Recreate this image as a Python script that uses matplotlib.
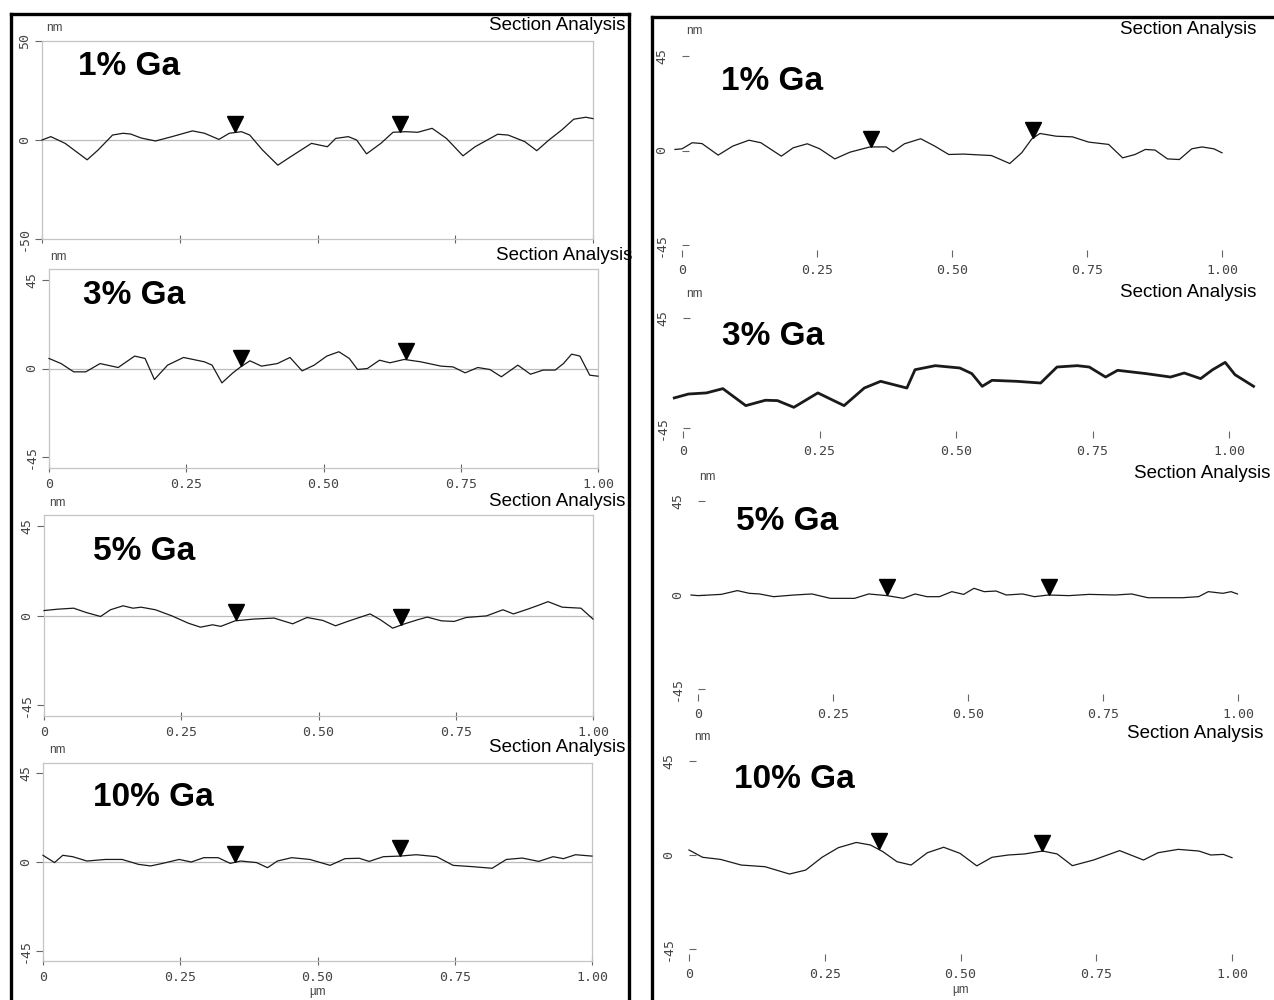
import matplotlib.pyplot as plt
import numpy as np
from matplotlib.lines import Line2D
from matplotlib.transforms import offset_copy

W, H = 1274, 1000

panel_labels = ['1% Ga', '3% Ga', '5% Ga', '10% Ga']
tick_pos = [0, 0.25, 0.5, 0.75, 1.0]
tick_text = ['0', '0.25', '0.50', '0.75', '1.00']
marker_x = [0.35, 0.65]

# left column profiles (x in um, height in nm)
left1_x = [0, 0.016, 0.042, 0.082, 0.102, 0.128, 0.147, 0.161, 0.18, 0.206, 0.236, 0.273, 0.295,
           0.321, 0.34, 0.362, 0.377, 0.4, 0.428, 0.451, 0.489, 0.518, 0.533, 0.556, 0.571, 0.589,
           0.615, 0.637, 0.66, 0.682, 0.708, 0.734, 0.764, 0.786, 0.827, 0.846, 0.876, 0.898, 0.92,
           0.943, 0.965, 0.987, 1.0]
left1_y = [0, 1.7, -1.7, -10, -5, 2.5, 3.4, 3, 1, -0.5, 1.7, 4.6, 3.4,
           0.3, 3.4, 4.2, 2.5, -5, -12.7, -8.5, -1.7, -3.4, 0.8, 1.7, 0, -7,
           -1.7, 3.9, 4.2, 3.9, 5.9, 0.8, -8, -3.4, 2.9, 2.5, -0.8, -5.4, 0,
           5, 10.5, 11.5, 10.8]

left3_x = [0, 0.022, 0.045, 0.067, 0.093, 0.126, 0.156, 0.175, 0.192, 0.216, 0.245, 0.283, 0.297,
           0.315, 0.335, 0.349, 0.366, 0.387, 0.416, 0.439, 0.461, 0.483, 0.506, 0.528, 0.547, 0.562,
           0.58, 0.602, 0.621, 0.647, 0.677, 0.714, 0.736, 0.758, 0.781, 0.803, 0.824, 0.854, 0.877,
           0.9, 0.922, 0.937, 0.952, 0.967, 0.985, 1.0]
left3_y = [5.1, 2.5, -1.7, -1.7, 2.5, 0.5, 6.3, 5.1, -5.6, 1.7, 5.6, 3.4, 1.7,
           -7.3, -2.2, 0.8, 3.9, 1.2, 2.5, 5.6, -1.2, 1.7, 6.3, 8.5, 5.1, -0.5,
           0, 4.2, 2.9, 4.6, 3.4, 1.2, 0.8, -2.2, 0.5, -0.5, -4.2, 1.7, -2.9,
           -0.8, -0.8, 2.5, 7.3, 6.3, -3.4, -3.9]

left5_x = [0, 0.025, 0.054, 0.077, 0.103, 0.121, 0.144, 0.162, 0.177, 0.203, 0.233, 0.263, 0.285,
           0.307, 0.322, 0.348, 0.382, 0.419, 0.453, 0.479, 0.508, 0.531, 0.553, 0.594, 0.613, 0.635,
           0.657, 0.68, 0.698, 0.724, 0.747, 0.769, 0.806, 0.836, 0.855, 0.881, 0.903, 0.918, 0.944,
           0.978, 1.0]
left5_y = [2.5, 3.2, 3.7, 1.5, -0.5, 2.9, 4.9, 3.7, 4.2, 2.9, -0.2, -3.9, -5.9,
           -4.7, -5.5, -2.7, -1.8, -1.3, -4.2, -1.0, -2.5, -5.2, -3.0, 0.8, -2.2, -6.4,
           -4.2, -2.2, -0.8, -2.7, -3.0, -1.0, -0.2, 2.9, 0.8, 3.2, 5.4, 7.0, 4.2,
           3.7, -1.8]

left10_x = [0, 0.021, 0.036, 0.054, 0.08, 0.114, 0.144, 0.174, 0.196, 0.218, 0.248, 0.27, 0.293,
            0.319, 0.341, 0.36, 0.389, 0.409, 0.427, 0.453, 0.486, 0.523, 0.55, 0.576, 0.594, 0.62,
            0.65, 0.68, 0.717, 0.747, 0.784, 0.818, 0.844, 0.873, 0.903, 0.929, 0.948, 0.97, 1.0]
left10_y = [3.4, -0.3, 3.4, 2.7, 0.5, 1.3, 1.3, -1.2, -2.0, -0.7, 1.3, 0, 2.2,
            2.2, -0.7, 0.5, -0.3, -2.9, 0.5, 2.2, 1.3, -1.7, 1.7, 1.9, 0.3, 2.7,
            3.0, 3.7, 2.7, -1.7, -2.4, -3.2, 1.3, 2.0, 0.3, 2.7, 1.7, 3.7, 3.0]

# right column profiles
right1_x = [-0.013, 0, 0.019, 0.037, 0.067, 0.094, 0.124, 0.146, 0.184, 0.206, 0.232, 0.255, 0.283,
            0.311, 0.348, 0.378, 0.391, 0.412, 0.442, 0.468, 0.494, 0.521, 0.573, 0.607, 0.629,
            0.648, 0.663, 0.693, 0.723, 0.753, 0.79, 0.816, 0.839, 0.858, 0.876, 0.899, 0.921,
            0.944, 0.963, 0.985, 1.0]
right1_y = [0.5, 0.8, 3.7, 3.3, -2.2, 2.1, 4.9, 3.7, -2.7, 1.3, 3.2, 0.8, -4.0,
            -0.8, 1.7, 1.7, -0.6, 3.2, 5.6, 2.1, -1.9, -1.7, -2.4, -6.2, -1.1,
            5.6, 8.1, 6.8, 6.5, 4.0, 2.9, -3.5, -1.9, 0.5, 0.2, -4.0, -4.3,
            0.8, 1.7, 0.8, -1.1]

right3_x = [-0.016, 0.01, 0.043, 0.073, 0.115, 0.151, 0.173, 0.203, 0.247, 0.295, 0.332, 0.362,
            0.41, 0.425, 0.462, 0.507, 0.529, 0.548, 0.566, 0.611, 0.655, 0.685, 0.722, 0.744,
            0.774, 0.796, 0.848, 0.893, 0.918, 0.948, 0.97, 0.993, 1.011, 1.045]
right3_y = [-20.4, -17.2, -16.3, -12.8, -26.7, -22.3, -22.6, -28.1, -16.3, -26.7, -12.3, -6.8,
            -12.3, 2.7, 6.0, 4.1, -0.5, -10.9, -6.0, -6.8, -8.2, 4.9, 6.0, 4.9,
            -3.3, 2.2, -0.5, -3.3, 0, -4.6, 2.7, 8.7, -1.4, -10.9]

right5_x = [-0.013, 0, 0.043, 0.073, 0.095, 0.114, 0.14, 0.178, 0.211, 0.245, 0.29, 0.316, 0.35,
            0.38, 0.402, 0.424, 0.447, 0.47, 0.492, 0.511, 0.53, 0.552, 0.571, 0.601, 0.623,
            0.649, 0.687, 0.724, 0.773, 0.803, 0.833, 0.897, 0.927, 0.945, 0.972, 0.987, 0.999]
right5_y = [0, -0.3, 0.3, 2.1, 0.8, 0.5, -0.8, 0, 0.5, -1.6, -1.6, 0.5, -0.3,
            -1.6, 0.5, -0.8, -0.8, 1.6, 0.3, 3.2, 1.6, 1.9, 0, 0.5, -0.8,
            0, -0.3, 0.3, 0, 0.5, -1.3, -1.3, -0.8, 1.6, 0.8, 1.6, 0.5]

right10_x = [0, 0.025, 0.058, 0.096, 0.14, 0.185, 0.215, 0.245, 0.275, 0.308, 0.334, 0.357, 0.383,
             0.409, 0.439, 0.469, 0.499, 0.53, 0.558, 0.588, 0.618, 0.651, 0.678, 0.706, 0.745,
             0.793, 0.837, 0.864, 0.901, 0.939, 0.961, 0.984, 1.0]
right10_y = [2.4, -1.1, -2.1, -4.8, -5.6, -9.1, -7.2, -1.1, 3.5, 6.0, 4.8, 1.6, -3.2,
             -4.8, 1.1, 3.7, 0.8, -5.2, -1.1, 0, 0.5, 1.9, 0.5, -5.1, -2.4,
             2.1, -2.4, 1.1, 2.7, 1.9, 0, 0.3, -1.3]

plt.rcParams['font.family'] = ['Liberation Sans', 'DejaVu Sans']
fig = plt.figure(figsize=(W / 100, H / 100), dpi=100)


def fx(px):
    return px / W


def fy(py):
    return 1 - py / H


def panel(x, y, x0, x1, ytop, ybot, ylim, yticks, yticklabels, framed,
          xlabels=True, markers=True, lw=0.9):
    ax = fig.add_axes([fx(x0), fy(ybot), (x1 - x0) / W, (ybot - ytop) / H])
    ax.plot(x, y, color='#1a1a1a', lw=lw, clip_on=False, zorder=3)
    ax.set_xlim(0, 1)
    ax.set_ylim(-ylim, ylim)
    ax.set_xticks(tick_pos)
    ax.set_xticklabels(tick_text if xlabels else [])
    ax.set_yticks(yticks)
    ax.set_yticklabels(yticklabels, rotation=90, va='center')
    for t in ax.get_xticklabels() + ax.get_yticklabels():
        t.set_fontfamily('DejaVu Sans Mono')
        t.set_fontsize(9.5)
        t.set_color('#444444')
    if framed:
        for s in ax.spines.values():
            s.set_color('#c4c4c4')
            s.set_linewidth(0.9)
        ax.axhline(0, color='#bdbdbd', lw=0.9, zorder=1)
        ax.tick_params(axis='y', direction='out', length=5, width=0.8, color='#666666', pad=3)
        ax.tick_params(axis='x', direction='inout', length=6, width=0.8, color='#666666', pad=4)
    else:
        for s in ax.spines.values():
            s.set_visible(False)
        ax.tick_params(axis='y', direction='in', length=5, width=0.8, color='#666666', pad=10)
        ax.tick_params(axis='x', direction='in', length=5, width=0.8, color='#666666', pad=5)
    if markers:
        ms = 12
        tr = offset_copy(ax.transData, fig=fig, x=0, y=ms / 2, units='points')
        ax.plot(marker_x, np.interp(marker_x, x, y), 'v', color='black', ms=ms,
                transform=tr, clip_on=False, zorder=4)
    return ax


def header(nm_x, nm_y, sa_x, sa_y, lab, lab_x, lab_y):
    fig.text(fx(nm_x), fy(nm_y), 'nm', fontsize=8.5, color='#444444', va='center', ha='center')
    fig.text(fx(sa_x), fy(sa_y), 'Section Analysis', fontsize=13.5, ha='right', va='center')
    fig.text(fx(lab_x), fy(lab_y), lab, fontsize=24, fontweight='bold', ha='left', va='center')


# left column
panel(left1_x, left1_y, 42, 593, 41, 239, 50, [-50, 0, 50], ['-50', '0', '50'], True, xlabels=False)
panel(left3_x, left3_y, 49, 598, 269, 468, 50.5, [-45, 0, 45], ['-45', '0', '45'], True)
panel(left5_x, left5_y, 44, 593, 515, 716, 50.8, [-45, 0, 45], ['-45', '0', '45'], True)
ax = panel(left10_x, left10_y, 43, 592, 763, 961, 50.3, [-45, 0, 45], ['-45', '0', '45'], True)
ax.set_xlabel('µm', fontsize=8.5, color='#444444', labelpad=2)

header(54, 28, 625, 26, panel_labels[0], 78, 66)
header(58, 257, 632, 255, panel_labels[1], 83, 296)
header(57, 503, 625, 502, panel_labels[2], 93, 551)
header(57, 750, 625, 748, panel_labels[3], 93, 797)

# right column
panel(right1_x, right1_y, 682, 1222, 44, 257, 50.7, [-45, 0, 45], ['-45', '0', '45'], False)
panel(right3_x, right3_y, 683, 1229, 308, 438, 53.2, [-45, 45], ['-45', '45'], False,
      markers=False, lw=2.0)
panel(right5_x, right5_y, 698, 1238, 489, 701, 50.7, [-45, 0, 45], ['-45', '0', '45'], False)
ax = panel(right10_x, right10_y, 689, 1232, 749, 961, 50.7, [-45, 0, 45], ['-45', '0', '45'], False)
ax.set_xlabel('µm', fontsize=8.5, color='#444444', labelpad=2)

header(694, 31, 1256, 30, panel_labels[0], 721, 82)
header(694, 294, 1256, 293, panel_labels[1], 722, 336)
header(707, 477, 1270, 474, panel_labels[2], 736, 522)
header(702, 737, 1263, 734, panel_labels[3], 734, 779)

# outer black boxes
box = dict(transform=fig.transFigure, color='black', lw=2.4, solid_capstyle='projecting')
fig.add_artist(Line2D([fx(11), fx(629)], [fy(14), fy(14)], **box))
fig.add_artist(Line2D([fx(11), fx(11)], [fy(14), fy(1000)], **box))
fig.add_artist(Line2D([fx(629), fx(629)], [fy(14), fy(1000)], **box))
fig.add_artist(Line2D([fx(652), fx(1274)], [fy(17), fy(17)], **box))
fig.add_artist(Line2D([fx(652), fx(652)], [fy(17), fy(1000)], **box))

fig.savefig('out.png', dpi=100)
